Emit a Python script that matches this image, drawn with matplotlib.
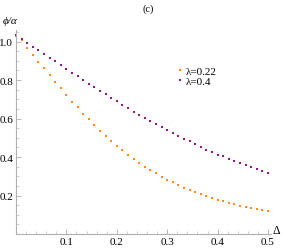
import numpy as np
import matplotlib
matplotlib.use("Agg")
import matplotlib.pyplot as plt
from matplotlib.ticker import MultipleLocator

plt.rcParams['font.family'] = ['Liberation Serif', 'DejaVu Serif']
plt.rcParams['mathtext.fontset'] = 'stix'

delta = np.linspace(0, 0.5, 46)

phi_022 = [1.030, 1.008, 0.966, 0.932, 0.895, 0.861, 0.826, 0.790, 0.757, 0.722,
           0.687, 0.658, 0.626, 0.596, 0.565, 0.535, 0.511, 0.485, 0.459, 0.435,
           0.412, 0.390, 0.370, 0.349, 0.330, 0.315, 0.296, 0.281, 0.269, 0.253,
           0.239, 0.229, 0.217, 0.206, 0.196, 0.187, 0.177, 0.170, 0.163, 0.154,
           0.145, 0.140, 0.135, 0.128, 0.123, 0.119]

phi_04 = [1.033, 1.014, 0.993, 0.974, 0.957, 0.936, 0.917, 0.898, 0.879, 0.859,
          0.839, 0.819, 0.800, 0.781, 0.764, 0.745, 0.727, 0.709, 0.690, 0.672,
          0.653, 0.636, 0.619, 0.601, 0.588, 0.571, 0.554, 0.539, 0.525, 0.510,
          0.493, 0.481, 0.466, 0.452, 0.438, 0.426, 0.412, 0.404, 0.390, 0.379,
          0.369, 0.357, 0.346, 0.336, 0.327, 0.317]

labels = ["λ=0.22", "λ=0.4"]
colors = ["#ff8c1a", "#8a1a8a"]
x_ticks = [0.1, 0.2, 0.3, 0.4, 0.5]
y_ticks = [0.2, 0.4, 0.6, 0.8, 1.0]

fig = plt.figure(figsize=(2.83, 2.51), dpi=100)
ax = fig.add_axes([16/283, 16/251, 254.5/283, 204/251])

for y, c, lab in zip([phi_022, phi_04], colors, labels):
    ax.plot(delta, y, linestyle='none', marker='s', markersize=2.1,
            markeredgewidth=0, color=c, label=lab, clip_on=False)

ax.set_xlim(0, 0.505)
ax.set_ylim(0, 1.06)
for s in ['top', 'right']:
    ax.spines[s].set_visible(False)
for s in ['left', 'bottom']:
    ax.spines[s].set_color('#b0b0b0')
    ax.spines[s].set_linewidth(0.8)

ax.set_xticks(x_ticks)
ax.set_xticklabels([f"{v:.1f}" for v in x_ticks])
ax.set_yticks(y_ticks)
ax.set_yticklabels([f"{v:.1f}" for v in y_ticks])
ax.xaxis.set_minor_locator(MultipleLocator(0.02))
ax.yaxis.set_minor_locator(MultipleLocator(0.05))
ax.tick_params(which='major', direction='in', length=3.5, width=0.6,
               color='#b0b0b0', labelsize=8, pad=2)
ax.tick_params(which='minor', direction='in', length=2, width=0.5,
               color='#c0c0c0')

leg = ax.legend(loc='upper left', bbox_to_anchor=(172/283, 1 - 62/251),
                bbox_transform=fig.transFigure, frameon=False, fontsize=8,
                handlelength=0.4, handletextpad=0.3, borderpad=0,
                labelspacing=0.0, markerscale=1.0)

fig.text(148/283, 1 - 9/251, "(c)", ha='center', va='center', fontsize=7.5)
fig.text(3/283, 1 - 21/251, "ϕ/α", ha='left', va='center', fontsize=8,
         fontstyle='italic')
fig.text(276/283, 1 - 231/251, "Δ", ha='center', va='center', fontsize=8.5)

fig.savefig("out.png", dpi=100)
